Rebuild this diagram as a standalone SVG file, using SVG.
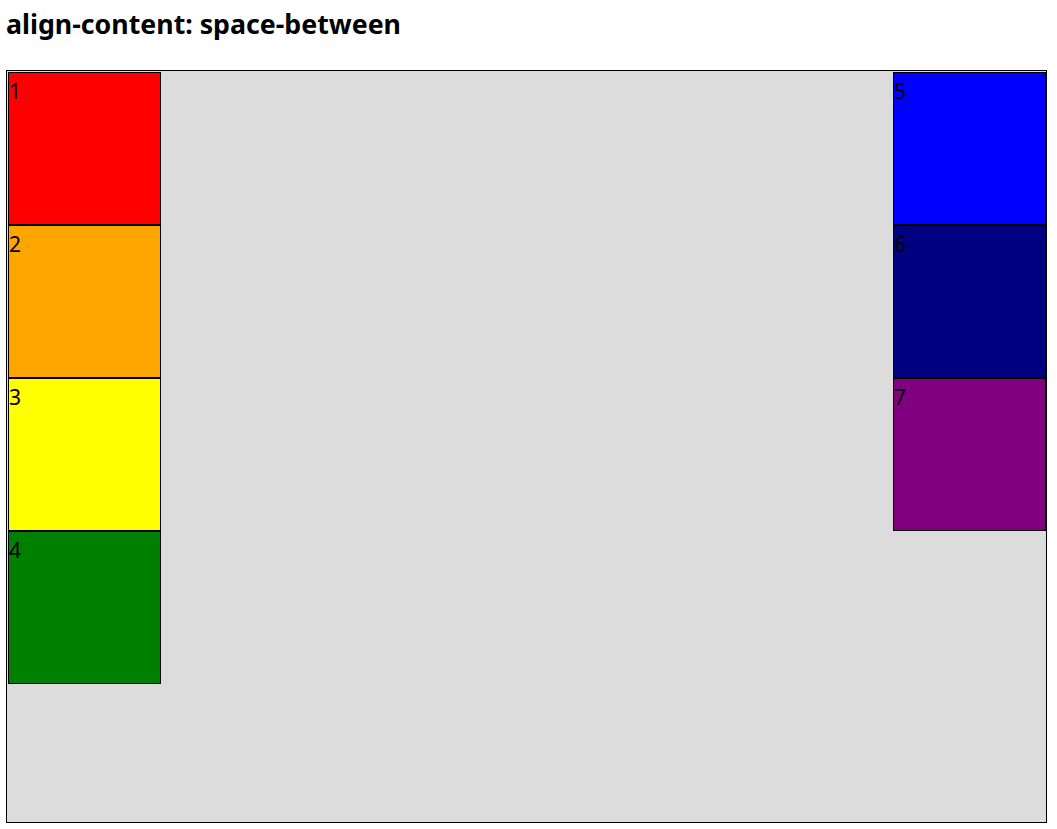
<svg xmlns="http://www.w3.org/2000/svg" width="1057" height="829" viewBox="0 0 1057 829">
<style>
.box{stroke:#000;stroke-width:1}
.lbl{font-family:"Noto Sans","Open Sans",sans-serif;font-size:21px;fill:#000}
.title{font-family:"Noto Sans","Open Sans",sans-serif;font-size:26px;font-weight:bold;fill:#000}
</style>
<rect width="1057" height="829" fill="#fff"/>
<text class="title" x="6" y="34" textLength="395" lengthAdjust="spacingAndGlyphs">align-content: space-between</text>
<g id="container">
<rect x="6.5" y="70.5" width="1040" height="752" fill="#dcdcdc" stroke="#000" stroke-width="1"/>
</g>
<g id="item1"><rect class="box" x="8.5" y="72.5" width="152" height="152" fill="#ff0000"/><text class="lbl" x="9" y="99">1</text></g>
<g id="item2"><rect class="box" x="8.5" y="225.5" width="152" height="152" fill="#ffa500"/><text class="lbl" x="9" y="252">2</text></g>
<g id="item3"><rect class="box" x="8.5" y="378.5" width="152" height="152" fill="#ffff00"/><text class="lbl" x="9" y="405">3</text></g>
<g id="item4"><rect class="box" x="8.5" y="531.5" width="152" height="152" fill="#008000"/><text class="lbl" x="9" y="558">4</text></g>
<g id="item5"><rect class="box" x="893.5" y="72.5" width="152" height="152" fill="#0000ff"/><text class="lbl" x="894" y="99">5</text></g>
<g id="item6"><rect class="box" x="893.5" y="225.5" width="152" height="152" fill="#000080"/><text class="lbl" x="894" y="252">6</text></g>
<g id="item7"><rect class="box" x="893.5" y="378.5" width="152" height="152" fill="#800080"/><text class="lbl" x="894" y="405">7</text></g>
<g id="connectors"></g>
</svg>
